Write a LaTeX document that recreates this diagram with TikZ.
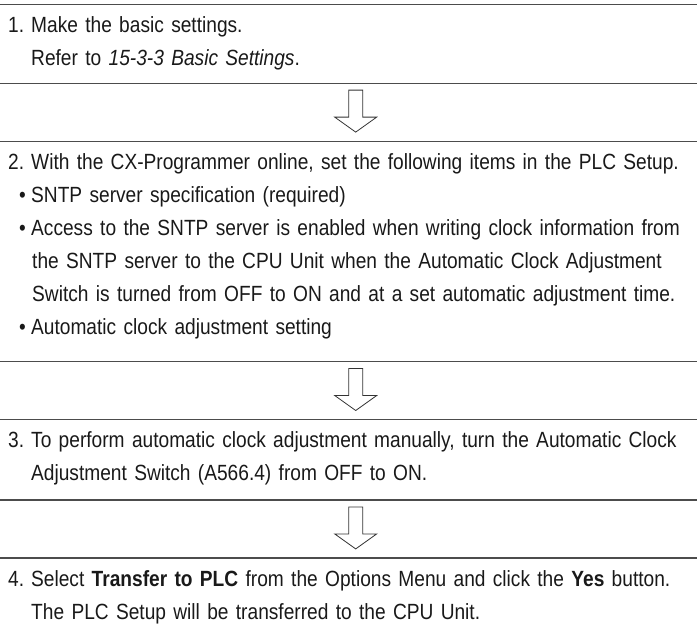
\documentclass[tikz,border=0pt]{standalone}
\usepackage{fontspec}
\setmainfont{Liberation Sans}[FakeStretch=0.87]
\usetikzlibrary{positioning,calc}
\newcommand\stepfont{\fontsize{22pt}{33pt}\selectfont}
\newcommand\stepno[1]{\makebox[23pt][l]{#1}}
\newcommand\stepitem{\hspace*{11pt}\makebox[12pt][l]{\textbullet}}
\newcommand\stepcont{\hspace*{23pt}}
\tikzset{
  stepbox/.style={anchor=north west,text width=681pt,inner xsep=8pt,inner ysep=0pt,
    align=left,text height=28pt,font=\stepfont,text=black!90},
  rule/.style={line width=1.2pt,draw=black!70},
  downarrow/.pic={\draw[line width=0.8pt,draw=black!80,line join=miter]
    (-7,22) -- (7,22) -- (7,-5) -- (21,-5) -- (0,-20) -- (-21,-5) -- (-7,-5) -- cycle;}
}
\begin{document}
\begin{tikzpicture}[x=1pt,y=1pt]
  \useasboundingbox (0,0) rectangle (697,-641);
  \node[stepbox,text depth=50pt] (s1) at (0,-4.7)
    {\stepno{1.}Make the basic settings.\\
     \stepcont Refer to \textit{15-3-3 Basic Settings}.};
  \node[stepbox,text depth=192pt,below=58pt of s1] (s2)
    {\stepno{2.}With the CX-Programmer online, set the following items in the PLC Setup.\\
     \stepitem SNTP server specification (required)\\
     \stepitem Access to the SNTP server is enabled when writing clock information from\\
     \hspace*{24pt}the SNTP server to the CPU Unit when the Automatic Clock Adjustment\\
     \hspace*{24pt}Switch is turned from OFF to ON and at a set automatic adjustment time.\\
     \stepitem Automatic clock adjustment setting};
  \node[stepbox,text depth=52pt,below=58pt of s2] (s3)
    {\stepno{3.}To perform automatic clock adjustment manually, turn the Automatic Clock\\
     \stepcont Adjustment Switch (A566.4) from OFF to ON.};
  \node[stepbox,text depth=56pt,below=58pt of s3] (s4)
    {\stepno{4.}Select \textbf{Transfer to PLC} from the Options Menu and click the \textbf{Yes} button.\\
     \stepcont The PLC Setup will be transferred to the CPU Unit.};
  \draw[rule] (s1.north west) -- (s1.north east);
  \draw[rule] (s1.south west) -- (s1.south east);
  \draw[rule] (s2.north west) -- (s2.north east);
  \draw[rule] (s2.south west) -- (s2.south east);
  \draw[rule] (s3.north west) -- (s3.north east);
  \draw[rule] (s3.south west) -- (s3.south east);
  \draw[rule] (s4.north west) -- (s4.north east);
  \pic at ($(s1.south)!.5!(s2.north)+(7,0)$) {downarrow};
  \pic at ($(s2.south)!.5!(s3.north)+(7,0)$) {downarrow};
  \pic at ($(s3.south)!.5!(s4.north)+(7,0)$) {downarrow};
\end{tikzpicture}
\end{document}
